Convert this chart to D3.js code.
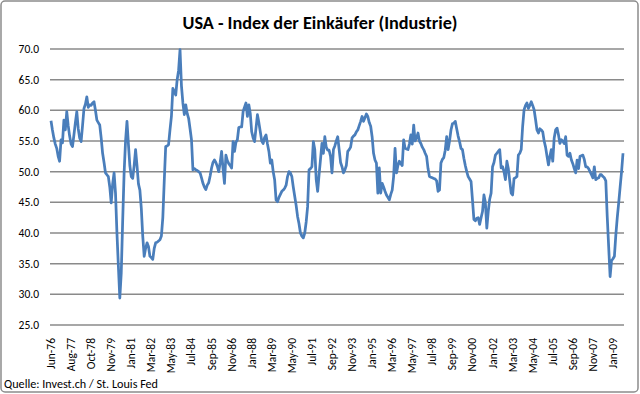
<!DOCTYPE html>
<html>
<head>
<meta charset="utf-8">
<script src="https://cdn.jsdelivr.net/npm/d3@7"></script>
<style>
  html, body { margin: 0; padding: 0; background: #fff; }
  svg { display: block; font-family: Carlito, Calibri, "Open Sans", sans-serif; }
</style>
</head>
<body>
<svg id="chart" width="640" height="394"></svg>
<script>
// monthly index values, Jun-76 .. Aug-09
const values = [
  58.3, 56.8, 55.5, 54.5, 53.8, 52.5, 51.7, 55.2, 54.7, 58.4,
  56.8, 59.8, 57.5, 55.8, 54.5, 54.1, 56.0, 58.0, 59.8, 57.0,
  55.5, 54.9, 57.5, 60.3, 61.0, 62.2, 60.5, 60.9, 60.8, 61.2,
  61.4, 60.0, 58.4, 58.0, 57.6, 55.5, 53.0, 51.5, 49.8, 49.5,
  49.2, 47.5, 44.9, 48.0, 49.8, 46.5, 40.0, 34.6, 29.4, 33.5,
  42.0, 49.8, 55.0, 58.2, 54.5, 51.0, 49.2, 48.9, 51.0, 53.6,
  51.0, 48.0, 47.0, 44.0, 39.5, 36.2, 37.5, 38.4, 37.8, 36.2,
  36.0, 35.7, 37.5, 38.4, 38.5, 38.7, 38.9, 39.5, 42.5, 48.5,
  54.1, 54.2, 54.4, 56.8, 59.0, 63.6, 63.0, 62.5, 65.0, 66.5,
  69.9, 64.0, 61.2, 59.3, 60.9, 59.5, 58.7, 57.0, 55.2, 50.3,
  50.5, 50.3, 50.2, 50.0, 49.8, 49.0, 48.1, 47.5, 47.1, 47.8,
  48.2, 49.3, 50.6, 51.5, 51.9, 51.5, 50.9, 50.0, 51.5, 53.3,
  50.5, 48.1, 52.7, 51.8, 51.3, 51.0, 50.6, 54.9, 53.3, 54.8,
  55.2, 57.2, 57.3, 57.3, 59.8, 60.5, 61.2, 59.0, 60.9, 59.5,
  56.5, 55.5, 54.9, 57.1, 59.3, 58.0, 56.5, 55.0, 54.6, 55.6,
  56.0, 54.5, 53.3, 51.4, 51.9, 50.0, 48.7, 45.4, 45.1, 45.8,
  46.3, 46.8, 47.0, 47.3, 47.8, 49.2, 50.0, 49.8, 49.2, 47.5,
  46.0, 44.5, 42.7, 41.5, 40.0, 39.5, 39.2, 40.0, 41.8, 44.3,
  50.3, 50.5, 50.8, 54.9, 53.6, 48.7, 46.8, 49.5, 52.0, 54.6,
  53.0, 55.7, 54.0, 53.5, 53.5, 52.5, 49.8, 53.6, 54.2, 55.0,
  55.7, 53.6, 51.5, 50.8, 49.8, 50.3, 51.0, 53.3, 53.6, 54.0,
  55.5, 55.8, 56.0, 56.5, 56.8, 57.5, 58.2, 59.0, 58.2, 58.8,
  59.4, 59.0, 58.0, 57.4, 55.7, 53.0, 51.9, 51.4, 46.5, 50.6,
  46.5, 48.1, 47.5, 46.8, 46.2, 45.8, 45.4, 46.3, 47.0, 49.2,
  53.8, 49.8, 51.0, 51.7, 51.3, 51.0, 55.2, 53.8, 53.7, 53.6,
  54.5, 56.0, 54.5, 57.6, 55.0, 55.5, 56.3, 55.0, 54.6, 54.0,
  53.6, 53.0, 52.5, 50.5, 49.2, 49.1, 49.0, 48.9, 48.8, 48.5,
  46.8, 47.0, 51.4, 52.0, 52.3, 53.5, 55.7, 53.6, 55.0, 56.8,
  57.8, 57.9, 58.2, 57.0, 55.8, 54.9, 53.8, 53.6, 52.2, 51.0,
  50.0, 49.2, 48.8, 48.4, 45.4, 42.2, 42.0, 42.4, 42.5, 41.4,
  42.5, 43.5, 46.2, 45.0, 40.8, 43.5, 45.5, 46.5, 50.8, 51.5,
  52.7, 53.0, 53.3, 53.6, 50.6, 50.8, 50.0, 48.7, 51.7, 50.5,
  48.5, 46.5, 46.2, 48.9, 49.0, 49.2, 52.7, 53.0, 53.6, 57.4,
  60.1, 60.8, 61.2, 60.3, 60.8, 61.4, 60.8, 60.1, 58.5, 56.8,
  56.3, 57.0, 56.8, 56.5, 55.0, 54.0, 52.5, 51.1, 52.5, 53.6,
  51.7, 55.5, 56.8, 57.1, 56.0, 54.6, 55.2, 55.0, 54.6, 55.7,
  52.7, 52.5, 53.0, 51.9, 51.3, 50.5, 49.8, 51.9, 50.5, 52.5,
  52.6, 52.7, 52.0, 50.8, 50.8, 50.5, 50.0, 49.5, 49.0, 50.8,
  48.7, 48.9, 49.0, 49.5, 49.5, 49.2, 49.0, 48.5, 42.7, 37.8,
  32.9, 35.5, 35.8, 36.2, 39.7, 42.5, 44.9, 47.5, 50.0, 53.0
];

// category labels shown on the x axis, one every 14 points
const tickLabels = [
  "Jun-76", "Aug-77", "Oct-78", "Nov-79", "Jan-81", "Mar-82", "May-83", "Jul-84",
  "Sep-85", "Nov-86", "Jan-88", "Mar-89", "May-90", "Jul-91", "Sep-92", "Nov-93",
  "Jan-95", "Mar-96", "May-97", "Jul-98", "Sep-99", "Nov-00", "Jan-02", "Mar-03",
  "May-04", "Jul-05", "Sep-06", "Nov-07", "Jan-09"
];
const tickStep = 14;

const yTicks = [25, 30, 35, 40, 45, 50, 55, 60, 65, 70];

const title = "USA - Index der Einkäufer (Industrie)";
const source = "Quelle: Invest.ch / St. Louis Fed";

const svg = d3.select("#chart");
const plot = {left: 50, right: 624, top: 49, bottom: 325};

// chart frame
svg.append("rect")
    .attr("x", 1).attr("y", 1)
    .attr("width", 637).attr("height", 391)
    .attr("rx", 4)
    .style("fill", "#fff")
    .style("stroke", "#8c8c8c")
    .style("stroke-width", "1.5px");

const x = d3.scaleLinear().domain([0, values.length - 1]).range([plot.left + 1, plot.right - 1]);
const y = d3.scaleLinear().domain([25, 70]).range([plot.bottom, plot.top]);

// grid lines
svg.append("g")
    .selectAll("line")
    .data(yTicks)
    .join("line")
    .attr("x1", plot.left).attr("x2", plot.right)
    .attr("y1", d => y(d)).attr("y2", d => y(d))
    .style("stroke", "#8a8a8a")
    .style("stroke-width", "1.5px");

// y axis labels
svg.append("g")
    .selectAll("text")
    .data(yTicks)
    .join("text")
    .attr("x", 39)
    .attr("y", d => y(d))
    .attr("dy", "0.35em")
    .attr("text-anchor", "end")
    .style("font-size", "11.5px")
    .style("fill", "#000")
    .text(d => d.toFixed(1));

// x axis labels, rotated
svg.append("g")
    .selectAll("text")
    .data(tickLabels)
    .join("text")
    .attr("transform", (d, i) => `translate(${x(i * tickStep) + 4},338) rotate(-90)`)
    .attr("text-anchor", "end")
    .style("font-size", "11.5px")
    .style("fill", "#000")
    .text(d => d);

// the series
const line = d3.line()
    .x((d, i) => x(i))
    .y(d => y(d));

svg.append("path")
    .datum(values)
    .attr("d", line)
    .style("fill", "none")
    .style("stroke", "#4a7ebb")
    .style("stroke-width", "2.75px")
    .style("stroke-linejoin", "round");

// title
svg.append("text")
    .attr("x", 320)
    .attr("y", 29)
    .attr("text-anchor", "middle")
    .attr("textLength", 275)
    .attr("lengthAdjust", "spacingAndGlyphs")
    .style("font-size", "18px")
    .style("font-weight", "bold")
    .text(title);

// source note
svg.append("text")
    .attr("x", 4)
    .attr("y", 388)
    .attr("textLength", 154)
    .attr("lengthAdjust", "spacingAndGlyphs")
    .style("font-size", "11.5px")
    .text(source);
</script>
</body>
</html>
